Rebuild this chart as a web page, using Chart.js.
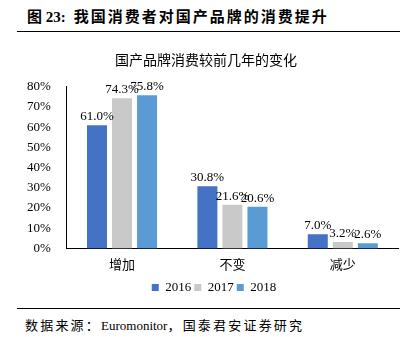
<!DOCTYPE html>
<html>
<head>
<meta charset="utf-8">
<script src="https://cdn.jsdelivr.net/npm/chart.js@4"></script>
<style>
  body { margin: 0; width: 410px; height: 337px; background: #fff; position: relative; overflow: hidden; }
  #header { position: absolute; left: 27px; top: 5px; font: bold 15px 'Liberation Serif', 'Noto Sans CJK SC'; color: #000; white-space: nowrap; }
  #header .cn { letter-spacing: 2px; margin-left: 8px; }
  #topLine { position: absolute; left: 17px; top: 31px; width: 383px; height: 0; border-top: 1.5px solid #000; }
  #bottomLine { position: absolute; left: 17px; top: 308px; width: 383px; height: 0; border-top: 1.5px solid #000; }
  #source { position: absolute; left: 25px; top: 315px; font: 13px 'Liberation Serif', 'Noto Sans CJK SC'; color: #000; white-space: nowrap; }
  #source .cn { letter-spacing: 2.2px; }
  #chartBox { position: absolute; left: 0; top: 40px; width: 410px; height: 264px; }
</style>
</head>
<body>
<div id="header">图 23:<span class="cn">我国消费者对国产品牌的消费提升</span></div>
<div id="topLine"></div>
<div id="chartBox"><canvas id="brandChart"></canvas></div>
<div id="bottomLine"></div>
<div id="source"><span class="cn">数据来源：</span>Euromonitor<span class="cn">，国泰君安证券研究</span></div>
<script>
// Categories & series (percent)
const categories = ['增加', '不变', '减少'];
const years = ['2016', '2017', '2018'];
const values2016 = [61.0, 30.8, 7.0];
const values2017 = [74.3, 21.6, 3.2];
const values2018 = [75.8, 20.6, 2.6];
const yTicks = [0, 10, 20, 30, 40, 50, 60, 70, 80];
const colors = ['#4472C4', '#C9C9C9', '#5B9BD5'];

const serif = "'Liberation Serif', 'Noto Sans CJK SC'";

// Draws value labels above every bar
const valueLabels = {
    id: 'valueLabels',
    afterDatasetsDraw(chart) {
        const ctx = chart.ctx;
        ctx.save();
        ctx.font = '13px ' + serif;
        ctx.fillStyle = '#000';
        ctx.textAlign = 'center';
        ctx.textBaseline = 'bottom';
        chart.data.datasets.forEach((ds, i) => {
            chart.getDatasetMeta(i).data.forEach((bar, j) => {
                ctx.fillText(ds.data[j].toFixed(1) + '%', bar.x, bar.y - 2);
            });
        });
        ctx.restore();
    }
};

// Nudges the legend a bit right, like the original
const legendShift = {
    id: 'legendShift',
    afterLayout(chart) {
        chart.legend.left += 8;
        chart.legend.right += 8;
    }
};

const seriesData = [values2016, values2017, values2018];

new Chart(document.getElementById('brandChart'), {
    type: 'bar',
    data: {
        labels: categories,
        datasets: years.map((y, i) => ({
            label: y,
            data: seriesData[i],
            backgroundColor: colors[i],
            barPercentage: 0.8,
            categoryPercentage: 0.68
        }))
    },
    options: {
        responsive: true,
        maintainAspectRatio: false,
        animation: false,
        layout: { padding: { left: 14, right: 12, top: 0, bottom: 0 } },
        scales: {
            x: {
                grid: { display: false, drawTicks: true, tickLength: 4, offset: true, color: '#000' },
                border: { color: '#000', width: 1 },
                ticks: { color: '#000', font: { family: serif, size: 13 }, padding: 5 }
            },
            y: {
                min: 0,
                max: 80,
                afterBuildTicks: (scale) => { scale.ticks = yTicks.map(v => ({ value: v })); },
                grid: { display: false, drawTicks: true, tickLength: 3 },
                border: { color: '#000', width: 1 },
                ticks: {
                    color: '#000',
                    font: { family: serif, size: 13 },
                    padding: 13,
                    callback: v => v + '%'
                }
            }
        },
        plugins: {
            title: {
                display: true,
                text: '国产品牌消费较前几年的变化',
                color: '#000',
                font: { family: serif, size: 14, weight: 'normal' },
                padding: { top: 13, bottom: 17 }
            },
            legend: {
                position: 'bottom',
                labels: {
                    color: '#000',
                    boxWidth: 7,
                    boxHeight: 7,
                    padding: 3,
                    font: { family: serif, size: 13 }
                }
            },
            tooltip: { enabled: false }
        }
    },
    plugins: [valueLabels, legendShift]
});
</script>
</body>
</html>
